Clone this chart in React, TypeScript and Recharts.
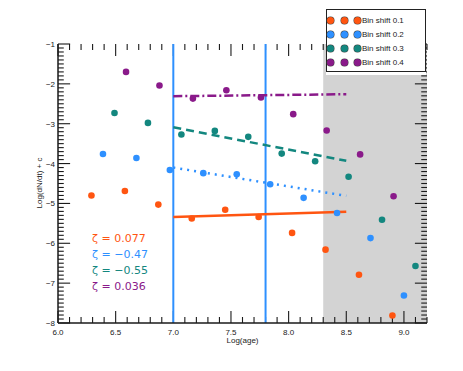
import { ComposedChart, Scatter, Line, XAxis, YAxis, ReferenceLine, ReferenceArea } from "recharts";

// Log(age) sample positions for each bin shift
const ageShift01 = [6.29, 6.58, 6.87, 7.16, 7.45, 7.74, 8.03, 8.32, 8.61, 8.90];
const ageShift02 = [6.39, 6.68, 6.97, 7.26, 7.55, 7.84, 8.13, 8.42, 8.71, 9.0];
const ageShift03 = [6.49, 6.78, 7.07, 7.36, 7.65, 7.94, 8.23, 8.52, 8.81, 9.10];
const ageShift04 = [6.59, 6.88, 7.17, 7.46, 7.76, 8.04, 8.33, 8.62, 8.91];

// Log(dN/dt) + c
const rateShift01 = [-4.80, -4.69, -5.03, -5.38, -5.16, -5.34, -5.74, -6.16, -6.79, -7.81];
const rateShift02 = [-3.76, -3.86, -4.16, -4.24, -4.27, -4.52, -4.86, -5.24, -5.87, -7.31];
const rateShift03 = [-2.73, -2.98, -3.27, -3.18, -3.33, -3.75, -3.94, -4.33, -5.41, -6.57];
const rateShift04 = [-1.70, -2.04, -2.37, -2.16, -2.34, -2.76, -3.17, -3.77, -4.82];

// fitted lines over the 7.0 - 8.5 range: [start, end]
const fitX = [7.0, 8.5];
const fit01 = [-5.34, -5.21];
const fit02 = [-4.10, -4.81];
const fit03 = [-3.09, -3.93];
const fit04 = [-2.31, -2.26];

const seriesNames = ["Bin shift 0.1", "Bin shift 0.2", "Bin shift 0.3", "Bin shift 0.4"];
const zetaLabels = ["ζ = 0.077", "ζ = −0.47", "ζ = −0.55", "ζ = 0.036"];
const fitWindow = [7.0, 7.8];
const excludedRange = [8.3, 9.2];

const xMajorTicks = [6.0, 6.5, 7.0, 7.5, 8.0, 8.5, 9.0];
const yMajorTicks = [-8, -7, -6, -5, -4, -3, -2, -1];

const X_MIN = 6.0, X_MAX = 9.2, Y_MIN = -8, Y_MAX = -1;
const COLORS = ["#ff5511", "#2e90ff", "#13877f", "#8a1a8a"];
const AXIS = "#1a1a1a";
const FONT = "'Liberation Sans', Arial, sans-serif";

// minor ticks every 0.1
const xTicks: number[] = [];
for (let i = 60; i <= 92; i++) xTicks.push(i / 10);
const yTicks: number[] = [];
for (let i = -80; i <= -10; i++) yTicks.push(i / 10);

const zip = (xs: number[], ys: number[]) => xs.map((x, i) => ({ x, y: ys[i] }));
const points = [zip(ageShift01, rateShift01), zip(ageShift02, rateShift02), zip(ageShift03, rateShift03), zip(ageShift04, rateShift04)];
const fits = [zip(fitX, fit01), zip(fitX, fit02), zip(fitX, fit03), zip(fitX, fit04)];
const dashes = [undefined, "2 5", "8 5", "9 3 2 3"];

const isMajorX = (v: number) => Math.abs(v * 2 - Math.round(v * 2)) < 1e-6;
const isMajorY = (v: number) => Math.abs(v - Math.round(v)) < 1e-6;
// tick lengths in data units (about 12px / 6px)
const xTickLen = (v: number) => (isMajorX(v) ? 0.3 : 0.15);
const yTickLen = (v: number) => (isMajorY(v) ? 0.105 : 0.05);

const BottomLabel = (p: any) => {
  const v = p.payload.value;
  return (
    <text x={p.x} y={p.y + 12} textAnchor="middle" fontSize={8} fontFamily={FONT} fill={AXIS}>
      {v.toFixed(1)}
    </text>
  );
};

const LeftLabel = (p: any) => (
  <text x={p.x - 3} y={p.y + 3} textAnchor="end" fontSize={8} fontFamily={FONT} fill={AXIS}>
    {"−" + Math.abs(p.payload.value)}
  </text>
);

const Dot = (color: string) => (p: any) => <circle cx={p.cx} cy={p.cy} r={3.3} fill={color} />;

const tickSeg = (key: string, a: { x: number; y: number }, b: { x: number; y: number }) => (
  <ReferenceLine key={key} xAxisId="b" yAxisId="l" segment={[a, b]} stroke={AXIS} strokeWidth={1.1} ifOverflow="visible" />
);

export default function App() {
  return (
    <div style={{ position: "absolute", left: 0, top: 0, width: 463, height: 371, background: "#fff", fontFamily: FONT }}>
      <ComposedChart width={463} height={371} margin={{ top: 44, right: 36, bottom: 18, left: 0 }}>
        <XAxis xAxisId="b" dataKey="x" type="number" domain={[X_MIN, X_MAX]} ticks={xMajorTicks} interval={0}
          tickSize={0} tickMargin={0} tick={BottomLabel} height={30} axisLine={{ stroke: AXIS, strokeWidth: 1.5 }} tickLine={false}
          allowDataOverflow />
        <XAxis xAxisId="t" orientation="top" dataKey="x" type="number" domain={[X_MIN, X_MAX]} tick={false}
          height={0} axisLine={{ stroke: AXIS, strokeWidth: 1.5 }} tickLine={false} allowDataOverflow />
        <YAxis yAxisId="l" dataKey="y" type="number" domain={[Y_MIN, Y_MAX]} ticks={yMajorTicks} interval={0}
          tickSize={0} tickMargin={0} tick={LeftLabel} width={58} axisLine={{ stroke: AXIS, strokeWidth: 1.5 }} tickLine={false}
          allowDataOverflow />
        <YAxis yAxisId="r" orientation="right" dataKey="y" type="number" domain={[Y_MIN, Y_MAX]} tick={false}
          width={0} axisLine={{ stroke: AXIS, strokeWidth: 1.5 }} tickLine={false} allowDataOverflow />

        <ReferenceArea xAxisId="b" yAxisId="l" x1={excludedRange[0]} x2={excludedRange[1]} y1={Y_MIN} y2={Y_MAX}
          fill="#d3d3d3" fillOpacity={1} stroke="none" />

        {xTicks.map((v) => tickSeg("xb" + v, { x: v, y: Y_MIN }, { x: v, y: Y_MIN + xTickLen(v) }))}
        {xTicks.map((v) => tickSeg("xt" + v, { x: v, y: Y_MAX }, { x: v, y: Y_MAX - xTickLen(v) }))}
        {yTicks.map((v) => tickSeg("yl" + v, { x: X_MIN, y: v }, { x: X_MIN + yTickLen(v), y: v }))}
        {yTicks.map((v) => tickSeg("yr" + v, { x: X_MAX, y: v }, { x: X_MAX - yTickLen(v), y: v }))}

        {fitWindow.map((x) => (
          <ReferenceLine key={"w" + x} xAxisId="b" yAxisId="l" x={x} stroke="#2e90ff" strokeWidth={2} />
        ))}
        {points.map((d, i) => (
          <Scatter key={"s" + i} xAxisId="b" yAxisId="l" data={d} fill={COLORS[i]} shape={Dot(COLORS[i])}
            isAnimationActive={false} name={seriesNames[i]} />
        ))}
        {fits.map((d, i) => (
          <Line key={"f" + i} xAxisId="b" yAxisId="l" data={d} dataKey="y" type="linear" stroke={COLORS[i]}
            strokeWidth={2.5} strokeDasharray={dashes[i]} dot={false} activeDot={false} isAnimationActive={false}
            legendType="none" />
        ))}
      </ComposedChart>

      <div style={{ position: "absolute", left: 326, top: 9, width: 100, height: 63, background: "#fff",
        border: "1.5px solid #222", boxSizing: "border-box", boxShadow: "0 3px 0 0 #fff" }}>
        {seriesNames.map((name, i) => (
          <div key={name} style={{ position: "absolute", left: 0, top: 6 + i * 14, height: 10 }}>
            {[3, 17, 30].map((l) => (
              <span key={l} style={{ position: "absolute", left: l - 3, top: 1, width: 7, height: 7, borderRadius: 4,
                background: COLORS[i], boxShadow: "0 0 0 0.5px #444" }} />
            ))}
            <span style={{ position: "absolute", left: 35, top: 0, fontSize: 8, lineHeight: "10px", color: "#222", whiteSpace: "nowrap" }}>
              {name}
            </span>
          </div>
        ))}
      </div>

      {zetaLabels.map((t, i) => (
        <div key={t} style={{ position: "absolute", left: 92, top: 232 + i * 16, fontSize: 11, lineHeight: "14px",
          color: COLORS[i], fontFamily: "'DejaVu Sans', sans-serif", whiteSpace: "nowrap" }}>
          {t}
        </div>
      ))}

      <div style={{ position: "absolute", left: 0, width: 485, top: 336, textAlign: "center", fontSize: 8, color: "#222" }}>
        Log(age)
      </div>
      <div style={{ position: "absolute", left: 39, top: 183, fontSize: 8, color: "#222", whiteSpace: "nowrap",
        transform: "translate(-50%, -50%) rotate(-90deg)" }}>
        Log(dN/dt) + c
      </div>
    </div>
  );
}
